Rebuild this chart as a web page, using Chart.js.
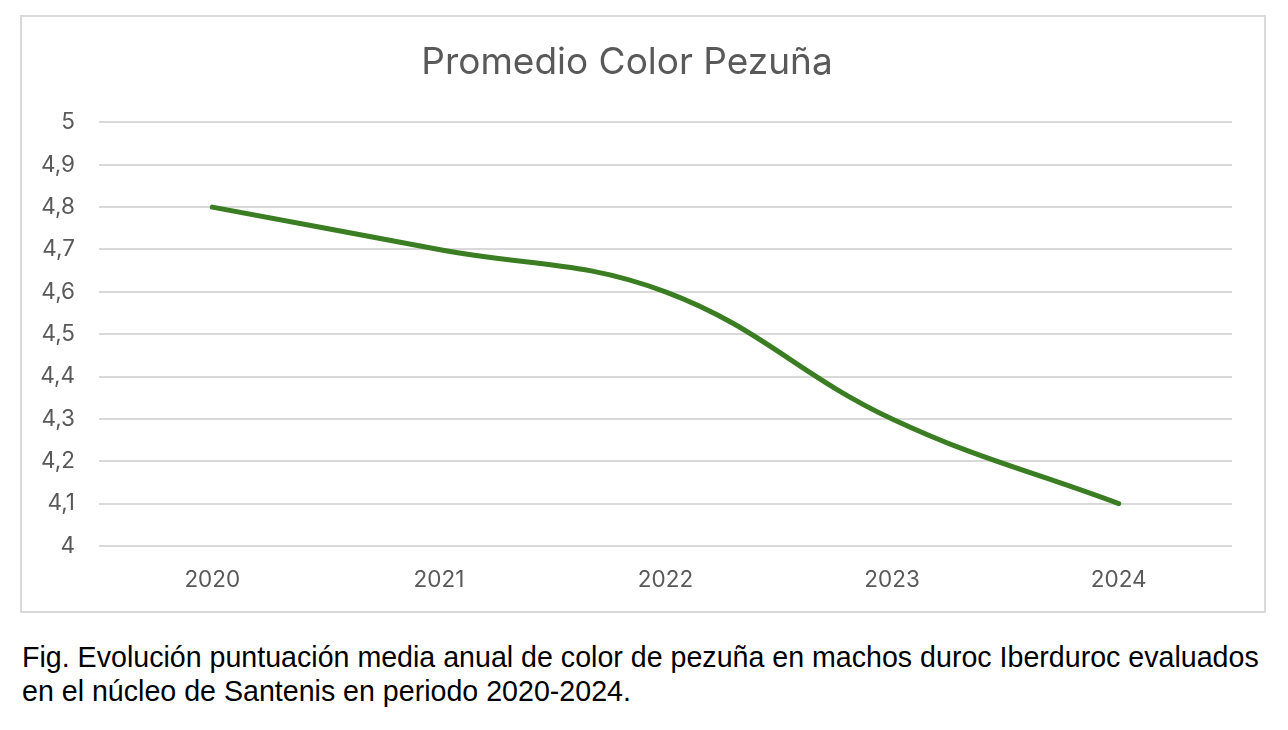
<!DOCTYPE html>
<html>
<head>
<meta charset="utf-8">
<script src="https://cdn.jsdelivr.net/npm/chart.js@4"></script>
<style>
  html, body { margin: 0; padding: 0; background: #fff; }
  body { width: 1288px; height: 730px; position: relative; overflow: hidden; }
  #box {
    position: absolute; left: 20px; top: 15px; width: 1246px; height: 598px;
    border: 2px solid #d9d9d9; box-sizing: border-box;
  }
  #caption {
    position: absolute; left: 22px; top: 640px; width: 1266px;
    font-family: "Liberation Sans", Arial, sans-serif; font-size: 28.6px;
    line-height: 34px; color: #000; white-space: nowrap;
  }
</style>
</head>
<body>
<div id="box"><canvas id="lineChart" width="1242" height="594"></canvas></div>
<div id="caption">Fig. Evolución puntuación media anual de color de pezuña en machos duroc Iberduroc evaluados<br>en el núcleo de Santenis en periodo 2020-2024.</div>
<script>
// datos
const years = ['2020', '2021', '2022', '2023', '2024'];
const promedio = [4.8, 4.7, 4.6, 4.3, 4.1];

const textColor = '#595959';
const gridColor = '#d9d9d9';
const chartFont = '"Inter", "Open Sans", sans-serif';

new Chart(document.getElementById('lineChart'), {
  type: 'line',
  data: {
    labels: years,
    datasets: [{
      label: 'Promedio Color Pezuña',
      data: promedio,
      borderColor: '#3b7d23',
      borderWidth: 5,
      borderCapStyle: 'round',
      pointRadius: 0,
      tension: 0.4,
      fill: false
    }]
  },
  options: {
    responsive: false,
    animation: false,
    layout: { padding: { left: 0, right: 32, top: 0, bottom: 18 } },
    plugins: {
      legend: { display: false },
      tooltip: { enabled: false },
      title: {
        display: true,
        text: 'Promedio Color Pezuña',
        color: textColor,
        font: { family: chartFont, size: 37, weight: 'normal' },
        padding: { top: 24, bottom: 37 }
      }
    },
    scales: {
      x: {
        offset: true,
        afterFit: s => { s.height = 47; },
        grid: { display: false, drawTicks: false },
        border: { display: false },
        ticks: { color: textColor, font: { family: chartFont, size: 22.5 }, padding: 21 }
      },
      y: {
        min: 4,
        max: 5,
        afterFit: s => { s.width = 77; },
        grid: { color: gridColor, lineWidth: 2, drawTicks: false },
        border: { display: false },
        ticks: {
          stepSize: 0.1,
          color: textColor,
          padding: 24,
          font: { family: chartFont, size: 22.5 },
          callback: v => String(Math.round(v * 10) / 10).replace('.', ',')
        }
      }
    }
  }
});
</script>
</body>
</html>
